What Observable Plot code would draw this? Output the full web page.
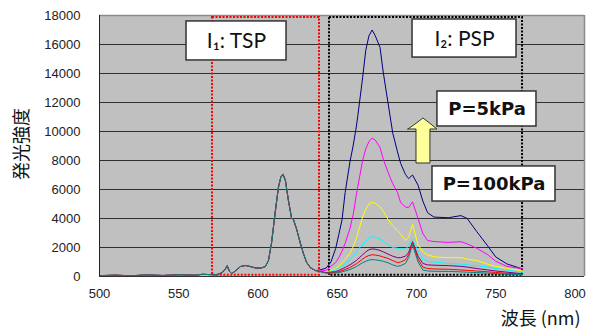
<!DOCTYPE html>
<html><head><meta charset="utf-8">
<script src="https://cdn.jsdelivr.net/npm/d3@7"></script>
<script src="https://cdn.jsdelivr.net/npm/@observablehq/plot@0.6"></script>
<style>body{margin:0;background:#fff;}</style>
</head><body><div id="chart"></div>
<script>
// ---- data ----
const wlTSP = [500, 510, 520, 530, 540, 550, 560, 565, 570, 574, 577, 579, 580.6, 582, 583.5, 586, 589, 592, 595, 598, 601.6, 604.7, 606.6, 608.5, 611, 612.9, 614.5, 615.9, 617.3, 619.2, 621.1, 622.4, 624.3, 626.8, 628.7, 630.6, 633.1, 636.3];
const tspIntensity = [60, 90, 50, 110, 70, 120, 90, 150, 130, 120, 250, 450, 740, 350, 190, 410, 690, 760, 690, 600, 570, 690, 1100, 2280, 4550, 6160, 6900, 7030, 6620, 5240, 4070, 3910, 3290, 2260, 1570, 990, 600, 410];
const wlPSP = [639, 643, 646, 649, 651, 653, 655, 658, 660, 662, 663, 666, 668, 670, 672, 674, 677, 679, 682, 685, 688, 690, 693, 695, 697.5, 701, 704, 707, 711, 720, 728, 732, 738, 745, 750, 757, 766, 767];
const psp5kPa   = [450, 580, 1000, 1930, 2900, 3900, 5800, 7900, 9000, 10300, 11100, 13700, 15600, 16600, 17000, 16600, 15800, 14100, 12000, 9900, 8600, 7800, 7050, 6750, 7000, 6300, 5200, 4400, 4100, 4050, 4200, 4000, 3100, 2100, 1350, 870, 550, 500];
const psp10kPa  = [380, 420, 700, 970, 1300, 1750, 2300, 3300, 4250, 5600, 6200, 8000, 8800, 9300, 9550, 9400, 8900, 8100, 7200, 6400, 5800, 5100, 4800, 4750, 5150, 4000, 2970, 2480, 2410, 2350, 2400, 2250, 1950, 1500, 1050, 700, 550, 500];
const psp20kPa  = [350, 330, 420, 550, 700, 950, 1200, 1600, 2050, 2600, 3000, 4100, 4650, 5000, 5120, 5050, 4800, 4500, 3950, 3500, 3150, 2950, 2500, 2700, 3600, 2200, 1700, 1500, 1350, 1300, 1300, 1200, 1100, 850, 700, 550, 400, 380];
const psp40kPa  = [350, 300, 360, 480, 600, 720, 880, 1150, 1400, 1650, 1850, 2200, 2450, 2650, 2750, 2700, 2600, 2450, 2200, 2000, 1950, 1900, 1900, 2100, 2600, 1700, 1200, 1050, 1000, 900, 850, 800, 750, 650, 550, 450, 300, 280];
const psp60kPa  = [350, 270, 300, 340, 420, 520, 620, 800, 950, 1100, 1200, 1500, 1700, 1850, 1900, 1880, 1800, 1700, 1550, 1400, 1300, 1300, 1400, 1650, 2400, 1400, 900, 800, 780, 750, 700, 650, 550, 450, 380, 300, 200, 180];
const psp80kPa  = [350, 250, 260, 280, 330, 400, 480, 620, 750, 870, 950, 1200, 1350, 1450, 1500, 1480, 1420, 1350, 1250, 1100, 950, 1000, 1150, 1500, 2350, 1200, 650, 550, 520, 500, 450, 420, 380, 320, 280, 220, 160, 150];
const psp100kPa = [350, 230, 230, 240, 270, 320, 380, 480, 580, 680, 750, 950, 1050, 1130, 1170, 1150, 1100, 1050, 950, 800, 700, 750, 900, 1300, 2200, 1000, 450, 380, 360, 350, 320, 300, 270, 230, 200, 160, 120, 110];
const seriesKeys = ["5kPa", "10kPa", "20kPa", "40kPa", "60kPa", "80kPa", "100kPa"];
const seriesColors = ["#000080", "#ff00ff", "#ffff00", "#00ffff", "#800080", "#ff0000", "#008080"];
const pspSeries = [psp5kPa, psp10kPa, psp20kPa, psp40kPa, psp60kPa, psp80kPa, psp100kPa];
const yTicks = [0, 2000, 4000, 6000, 8000, 10000, 12000, 14000, 16000, 18000];
const xTicks = [500, 550, 600, 650, 700, 750, 800];

// ---- build table ----
const rows = seriesKeys.flatMap((k, i) => [
  ...wlTSP.map((w, j) => ({k, w, v: tspIntensity[j]})),
  ...wlPSP.map((w, j) => ({k, w, v: pspSeries[i][j]}))
]);

// annotation geometry (data coordinates)
const regionTSP = [{x1: 571.3, x2: 638.8, y1: 80, y2: 17860}];
const regionPSP = [{x1: 645.1, x2: 766.9, y1: 80, y2: 17860}];
const labelBoxes = [
  {x1: 554.9, x2: 618.0, y1: 14900, y2: 17590},
  {x1: 697.5, x2: 763.1, y1: 15100, y2: 17725},
  {x1: 713.2, x2: 775.7, y1: 10345, y2: 12760},
  {x1: 710.1, x2: 787.7, y1: 5170, y2: 7590}
];
const thinLabels = [
  {x: 586.4, y: 16230, t: "I₁: TSP"},
  {x: 730.3, y: 16380, t: "I₂: PSP"}
];
const boldLabels = [
  {x: 744.5, y: 11550, t: "P=5kPa"},
  {x: 748.9, y: 6380, t: "P=100kPa"}
];
const arrowPts = [
  {x: 694.9, lo: 10138, hi: 10138},
  {x: 700.0, lo: 10138, hi: 10530},
  {x: 700.0, lo: 7793, hi: 10530},
  {x: 704.4, lo: 7793, hi: 10897},
  {x: 708.8, lo: 7793, hi: 10530},
  {x: 708.8, lo: 10138, hi: 10530},
  {x: 713.2, lo: 10138, hi: 10138}
];

const chart = Plot.plot({
  width: 595,
  height: 331,
  marginTop: 15,
  marginBottom: 55,
  marginLeft: 99,
  marginRight: 11,
  style: {background: "#fff", fontFamily: "'Liberation Sans', Arial, sans-serif", fontSize: "13px", color: "#222"},
  x: {domain: [500, 806]},
  y: {domain: [0, 18000]},
  color: {domain: seriesKeys, range: seriesColors},
  marks: [
    Plot.frame({fill: "#c0c0c0", stroke: null}),
    Plot.ruleY(yTicks.filter(d => d > 0 && d < 18000), {stroke: "#303030", strokeWidth: 1}),
    Plot.ruleY([18000], {stroke: "#8a8a8a", strokeWidth: 1.5}),
    Plot.ruleX([806], {stroke: "#8a8a8a", strokeWidth: 1.5}),
    Plot.rect(regionTSP, {x1: "x1", x2: "x2", y1: "y1", y2: "y2", fill: "none", stroke: "#ff0000", strokeWidth: 2, strokeDasharray: "2,1.5"}),
    Plot.rect(regionPSP, {x1: "x1", x2: "x2", y1: "y1", y2: "y2", fill: "none", stroke: "#000", strokeWidth: 2, strokeDasharray: "2,1.5"}),
    Plot.line(rows, {x: "w", y: "v", z: "k", stroke: "k", strokeWidth: 1}),
    Plot.ruleX([500], {stroke: "#222", strokeWidth: 1}),
    Plot.ruleY([0], {stroke: "#333", strokeWidth: 1}),
    Plot.rect(labelBoxes, {x1: "x1", x2: "x2", y1: "y1", y2: "y2", fill: "#fff", stroke: "#333", strokeWidth: 1.5}),
    Plot.text(thinLabels, {x: "x", y: "y", text: "t", fontSize: 21, fontFamily: "Lato, 'DejaVu Sans', sans-serif", fill: "#111", lineAnchor: "middle"}),
    Plot.text(boldLabels, {x: "x", y: "y", text: "t", fontSize: 18, fontWeight: "bold", fontFamily: "'DejaVu Sans', sans-serif", fill: "#111", lineAnchor: "middle"}),
    Plot.areaY(arrowPts, {x: "x", y1: "lo", y2: "hi", fill: "#ffff99", stroke: "#333", strokeWidth: 1, curve: "linear"}),
    Plot.axisY(yTicks, {tickSize: 0, tickPadding: 19, tickFormat: d3.format("d"), label: null, fontSize: 13}),
    Plot.axisX(xTicks, {tickSize: 0, tickPadding: 12, tickFormat: d3.format("d"), label: null, fontSize: 13}),
    Plot.text(["発光強度"], {frameAnchor: "left", dx: -77, dy: -2, rotate: -90, textAnchor: "middle", fontSize: 18, fontFamily: "'Noto Sans CJK JP', sans-serif", fill: "#111"}),
    Plot.text(["波長 (nm)"], {frameAnchor: "bottom-right", textAnchor: "end", dx: -4, dy: 43, lineAnchor: "middle", fontSize: 18, fontFamily: "'Noto Sans CJK JP', sans-serif", fill: "#111"})
  ]
});
document.getElementById("chart").appendChild(chart);
</script>
</body></html>
